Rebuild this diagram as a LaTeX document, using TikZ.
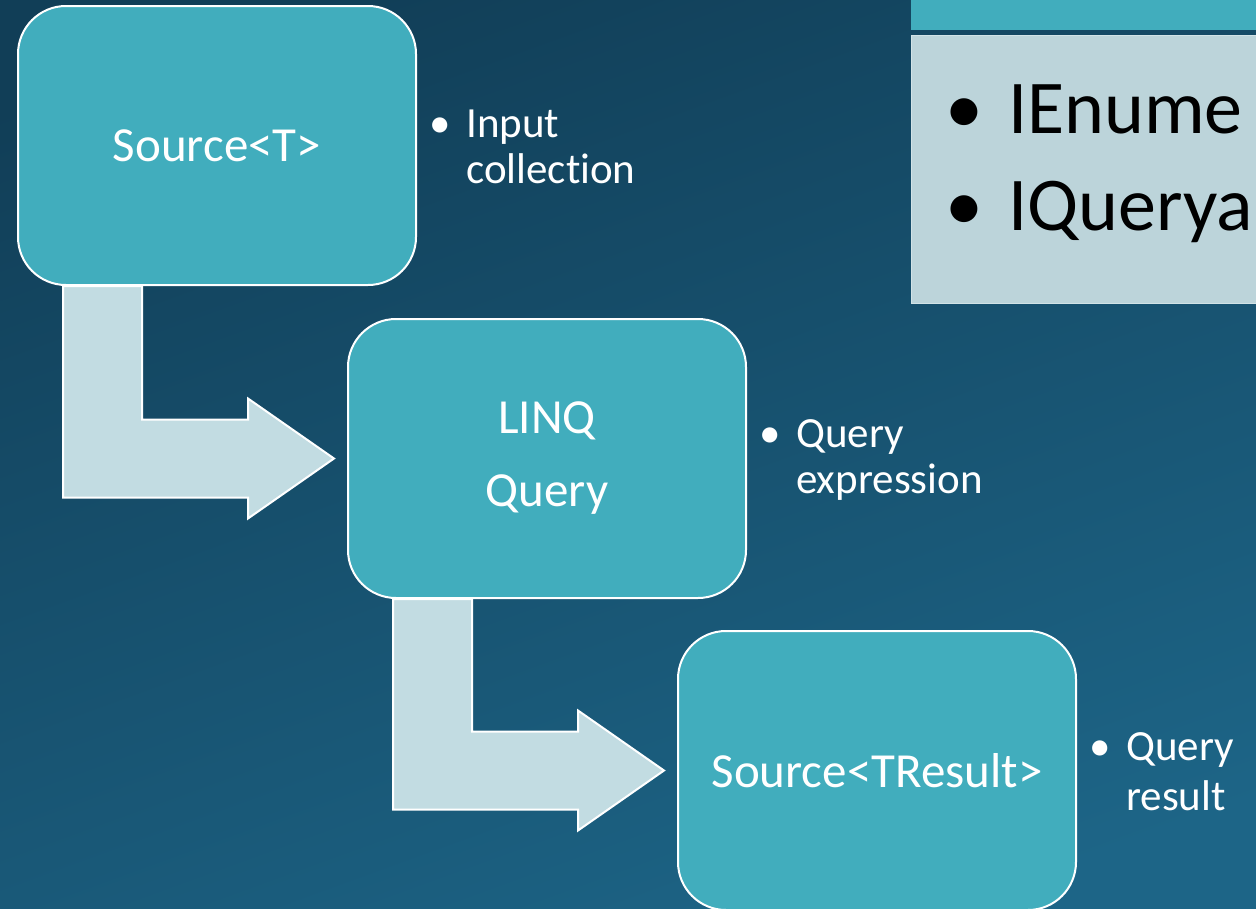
\documentclass[tikz,border=0pt]{standalone}
\usepackage{fontspec}
\setmainfont{Carlito}[Ligatures=NoCommon]
\usetikzlibrary{calc,backgrounds}
\definecolor{bgtop}{HTML}{113E57}
\definecolor{bgbot}{HTML}{1D6587}
\definecolor{boxteal}{HTML}{41ADBD}
\definecolor{arrowfill}{HTML}{C2DCE2}
\definecolor{panelfill}{HTML}{BCD4DA}
\definecolor{panelrim}{HTML}{D2E3E7}

\begin{document}
\begin{tikzpicture}[x=1pt,y=-1pt,
  stage/.style={draw=white, line width=2pt, fill=boxteal, rounded corners=48pt,
    minimum width=398pt, minimum height=279pt, inner sep=0pt, text=white,
    font=\fontsize{49}{73}\selectfont, align=center},
  flow/.style={draw=white, line width=2pt, fill=arrowfill, line join=miter},
  note/.style={text=white, font=\fontsize{43}{47}\selectfont, anchor=base west, inner sep=0pt},
  paneltext/.style={text=black, font=\fontsize{76}{97}\selectfont, anchor=base west, inner sep=0pt}]

\useasboundingbox (0,0) rectangle (1256,908);

% pipeline stages
\node[stage] (b1) at (217,145.5) {Source<T>};
\node[stage] (b2) at (547,458.5) {LINQ\\Query};
\node[stage] (b3) at (877,770.5) {Source<TResult>};

% bullet notes beside each stage
\node[note] (n1a) at ($(b1.east)+(12,-8)$) {\makebox[37pt][l]{\textbullet}Input};
\node[note] (n1b) at ($(n1a.base west)+(37,46)$) {collection};
\node[note] (n2a) at ($(b2.east)+(12,-11)$) {\makebox[37pt][l]{\textbullet}Query};
\node[note] (n2b) at ($(n2a.base west)+(37,46)$) {expression};
\node[note] (n3a) at ($(b3.east)+(12,-10)$) {\makebox[37pt][l]{\textbullet}Query};
\node[note] (n3b) at ($(n3a.base west)+(37,50)$) {result};

% interface panel, top right
\fill[boxteal] (911,-2) rectangle (1260,30);
\draw[fill=panelfill, draw=panelrim, line width=1pt] (911,35) rectangle (1260,303);
\node[paneltext] (p1) at (945,133) {\makebox[63pt][l]{\textbullet}IEnume};
\node[paneltext] (p2) at (945,230) {\makebox[63pt][l]{\textbullet}IQuerya};

\begin{scope}[on background layer]
  \shade[top color=bgtop, bottom color=bgbot, shading angle=20] (-40,-40) rectangle (1300,950);
  % bent arrows between stages
  \coordinate (s1) at ($(b1.south west)+(46,0)$);
  \coordinate (t1) at ($(b2.west)+(-13,0)$);
  \draw[flow] (s1) -- ++(79,0) |- ($(t1)+(-86,-39)$) -- ++(0,-21) -- (t1)
    -- ($(t1)+(-86,60)$) -- ++(0,-21) -| (s1) -- cycle;
  \coordinate (s2) at ($(b2.south west)+(46,0)$);
  \coordinate (t2) at ($(b3.west)+(-13,0)$);
  \draw[flow] (s2) -- ++(79,0) |- ($(t2)+(-86,-39)$) -- ++(0,-21) -- (t2)
    -- ($(t2)+(-86,60)$) -- ++(0,-21) -| (s2) -- cycle;
\end{scope}
\end{tikzpicture}
\end{document}
